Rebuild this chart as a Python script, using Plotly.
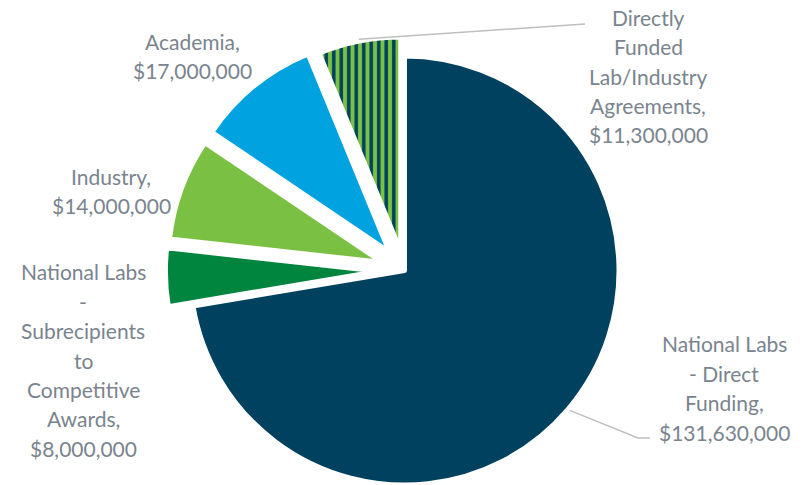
import math
import plotly.graph_objects as go

# Funding by recipient category (USD)
categories = [
    "National Labs - Direct Funding",
    "National Labs - Subrecipients to Competitive Awards",
    "Industry",
    "Academia",
    "Directly Funded Lab/Industry Agreements",
]
funding = [131_630_000, 8_000_000, 14_000_000, 17_000_000, 11_300_000]

# Wrapped label text shown beside each slice
label_text = [
    "National Labs<br>- Direct<br>Funding,",
    "National Labs<br>-<br>Subrecipients<br>to<br>Competitive<br>Awards,",
    "Industry,",
    "Academia,",
    "Directly<br>Funded<br>Lab/Industry<br>Agreements,",
]

# ---- styling / layout ----
W, H = 808, 485
CX, CY, R = 404.5, 270.5, 214.5          # pie centre and radius (px)
explode = [0.0, 0.118, 0.108, 0.11, 0.09]  # radial offset as a fraction of R
slice_colors = ["#00415f", "#00853f", "#7ac143", "#00a3e0", "#7ac143"]
stripe_fg = "#00415f"
BORDER = 5
TEXT_COLOR = "#7a848e"
FONT = "Lato"
FONT_SIZE = 21
LINE_STEP = 29.4                          # px between label lines
label_pos = [(724, 388), (83, 360), (111, 191), (192, 56), (648, 76)]
CLEAR = "rgba(0,0,0,0)"

total = sum(funding)
fig = go.Figure()

mids, centres = [], []
start = 0.0
n = len(funding)
for i, v in enumerate(funding):
    frac = v / total
    mid = 2 * math.pi * (start + frac / 2)   # clockwise from 12 o'clock
    start += frac
    d = explode[i] * R
    cx = CX + d * math.sin(mid)
    cy = CY - d * math.cos(mid)
    mids.append(mid)
    centres.append((cx, cy))

    yc = H - cy
    half = min(R, yc, H - yc)
    fig.add_trace(go.Pie(
        labels=categories,
        values=funding,
        sort=False,
        direction="clockwise",
        rotation=0,
        domain=dict(x=[(cx - R) / W, (cx + R) / W],
                    y=[max(0, (yc - half) / H), min(1, (yc + half) / H)]),
        marker=dict(
            colors=[slice_colors[j] if j == i else CLEAR for j in range(n)],
            line=dict(color="white", width=[BORDER if j == i else 0 for j in range(n)]),
            pattern=dict(
                shape=["|" if (j == i and j == 4) else "" for j in range(n)],
                fgcolor=stripe_fg,
                bgcolor=slice_colors[4],
                size=7.5,
                solidity=0.47,
                fillmode="replace",
            ),
        ),
        textinfo="none",
        hoverinfo="label+value",
        showlegend=False,
    ))

# slice labels, one annotation per text line for even line spacing
annotations = []
for i, v in enumerate(funding):
    px, py = label_pos[i]
    lines = label_text[i].split("<br>") + [f"${v:,}"]
    for k, line in enumerate(lines):
        ly = py + (k - (len(lines) - 1) / 2) * LINE_STEP
        annotations.append(dict(
            x=px / W, y=1 - ly / H, xref="paper", yref="paper",
            xanchor="center", yanchor="middle", align="center",
            text=line, showarrow=False,
            font=dict(family=FONT, size=FONT_SIZE, color=TEXT_COLOR),
        ))


def rim_point(i, extra=2.0):
    cx, cy = centres[i]
    return (cx + (R + extra) * math.sin(mids[i]), cy - (R + extra) * math.cos(mids[i]))


def to_paper(x, y):
    return x / W, 1 - y / H


# leader lines for the two labels set away from their slices
leaders = [
    [rim_point(0), (638, 438), (650, 438)],
    [rim_point(4), (585, 24)],
]
shapes = []
for pts in leaders:
    path = ""
    for k, (x, y) in enumerate(pts):
        xp, yp = to_paper(x, y)
        path += ("M" if k == 0 else "L") + f"{xp:.5f},{yp:.5f} "
    shapes.append(dict(type="path", xref="paper", yref="paper", path=path.strip(),
                       line=dict(color="#bfbfbf", width=1.5)))

fig.update_layout(
    width=W, height=H,
    margin=dict(l=0, r=0, t=0, b=0),
    paper_bgcolor="white",
    plot_bgcolor="white",
    annotations=annotations,
    shapes=shapes,
    showlegend=False,
)

fig.write_html("out.html")
